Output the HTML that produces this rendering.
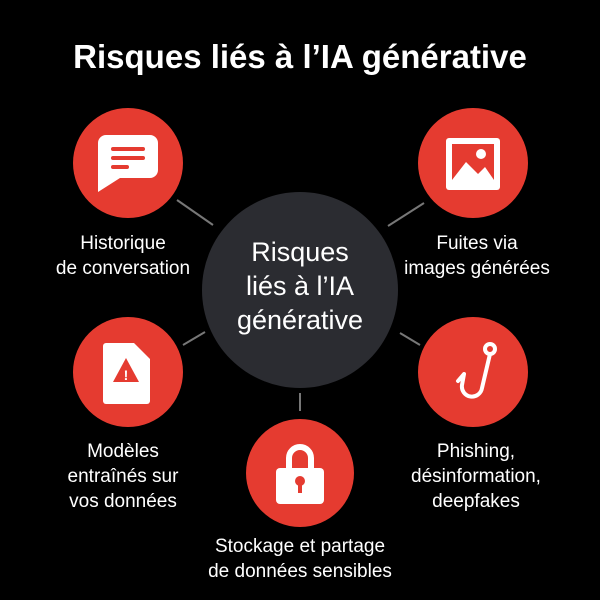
<!DOCTYPE html>
<html><head><meta charset="utf-8"><style>
body{margin:0;background:#000;}
svg{display:block}
text{font-family:"Liberation Sans",sans-serif;fill:#fff;text-anchor:middle}
</style></head><body>
<svg width="600" setHeight="600" height="600" viewBox="0 0 600 600">
<rect width="600" height="600" fill="#000"/>
<text x="300" y="68" font-size="33" font-weight="bold">Risques liés à l’IA générative</text>
<g stroke="#777" stroke-width="2">
<line x1="177" y1="200" x2="213" y2="225"/>
<line x1="424" y1="203" x2="388" y2="226"/>
<line x1="183" y1="345" x2="205" y2="332"/>
<line x1="420" y1="345" x2="400" y2="333"/>
<line x1="300" y1="393" x2="300" y2="411"/>
</g>
<circle cx="300" cy="290" r="98" fill="#2b2c31"/>
<text x="300" y="261" font-size="27">Risques</text>
<text x="300" y="295" font-size="27">liés à l’IA</text>
<text x="300" y="329" font-size="27">générative</text>
<g fill="#e53b30">
<circle cx="128" cy="163" r="55"/>
<circle cx="473" cy="163" r="55"/>
<circle cx="128" cy="372" r="55"/>
<circle cx="473" cy="372" r="55"/>
<circle cx="300" cy="473" r="54"/>
</g>
<!-- chat -->
<path d="M106 135 h44 a8 8 0 0 1 8 8 v27 a8 8 0 0 1 -8 8 h-30 l-22 14 v-49 a8 8 0 0 1 8 -8z" fill="#fff"/>
<g stroke="#e53b30" stroke-width="4" stroke-linecap="round"><line x1="113" y1="149" x2="143" y2="149"/><line x1="113" y1="158" x2="143" y2="158"/><line x1="113" y1="167" x2="127" y2="167"/></g>
<!-- image -->
<rect x="446" y="138" width="54" height="52" rx="3" fill="#fff"/>
<rect x="452" y="144" width="42" height="36" fill="#e53b30"/>
<circle cx="481" cy="154" r="5" fill="#fff"/>
<path d="M452 180 l14 -18 l12 12 l7 -7 l9 13z" fill="#fff"/>
<!-- doc warning -->
<path d="M106 343 h28 l16 16 v42 a3 3 0 0 1 -3 3 h-41 a3 3 0 0 1 -3 -3 v-55 a3 3 0 0 1 3 -3z" fill="#fff"/>
<path d="M126 358 l13 24 h-26z" fill="#e53b30"/>
<text x="126" y="380" font-size="14" font-weight="bold" style="fill:#fff">!</text>
<!-- hook -->
<circle cx="490" cy="349" r="5" fill="none" stroke="#fff" stroke-width="4"/>
<path d="M490 354 l-8 34 a10 10 0 0 1 -20 -3 l2 -11 l-6 7" fill="none" stroke="#fff" stroke-width="4" stroke-linecap="round" stroke-linejoin="round"/>
<!-- lock -->
<path d="M289 469 v-11 a11 11 0 0 1 22 0 v11" fill="none" stroke="#fff" stroke-width="6"/>
<rect x="276" y="468" width="48" height="36" rx="4" fill="#fff"/>
<circle cx="300" cy="481" r="5" fill="#e53b30"/><rect x="298" y="483" width="4" height="10" fill="#e53b30"/>
<g font-size="19">
<text x="123" y="249">Historique</text><text x="123" y="274">de conversation</text>
<text x="477" y="249">Fuites via</text><text x="477" y="274">images générées</text>
<text x="123" y="457">Modèles</text><text x="123" y="482">entraînés sur</text><text x="123" y="507">vos données</text>
<text x="476" y="457">Phishing,</text><text x="476" y="482">désinformation,</text><text x="476" y="507">deepfakes</text>
<text x="300" y="552">Stockage et partage</text><text x="300" y="577">de données sensibles</text>
</g>
</svg>
</body></html>
